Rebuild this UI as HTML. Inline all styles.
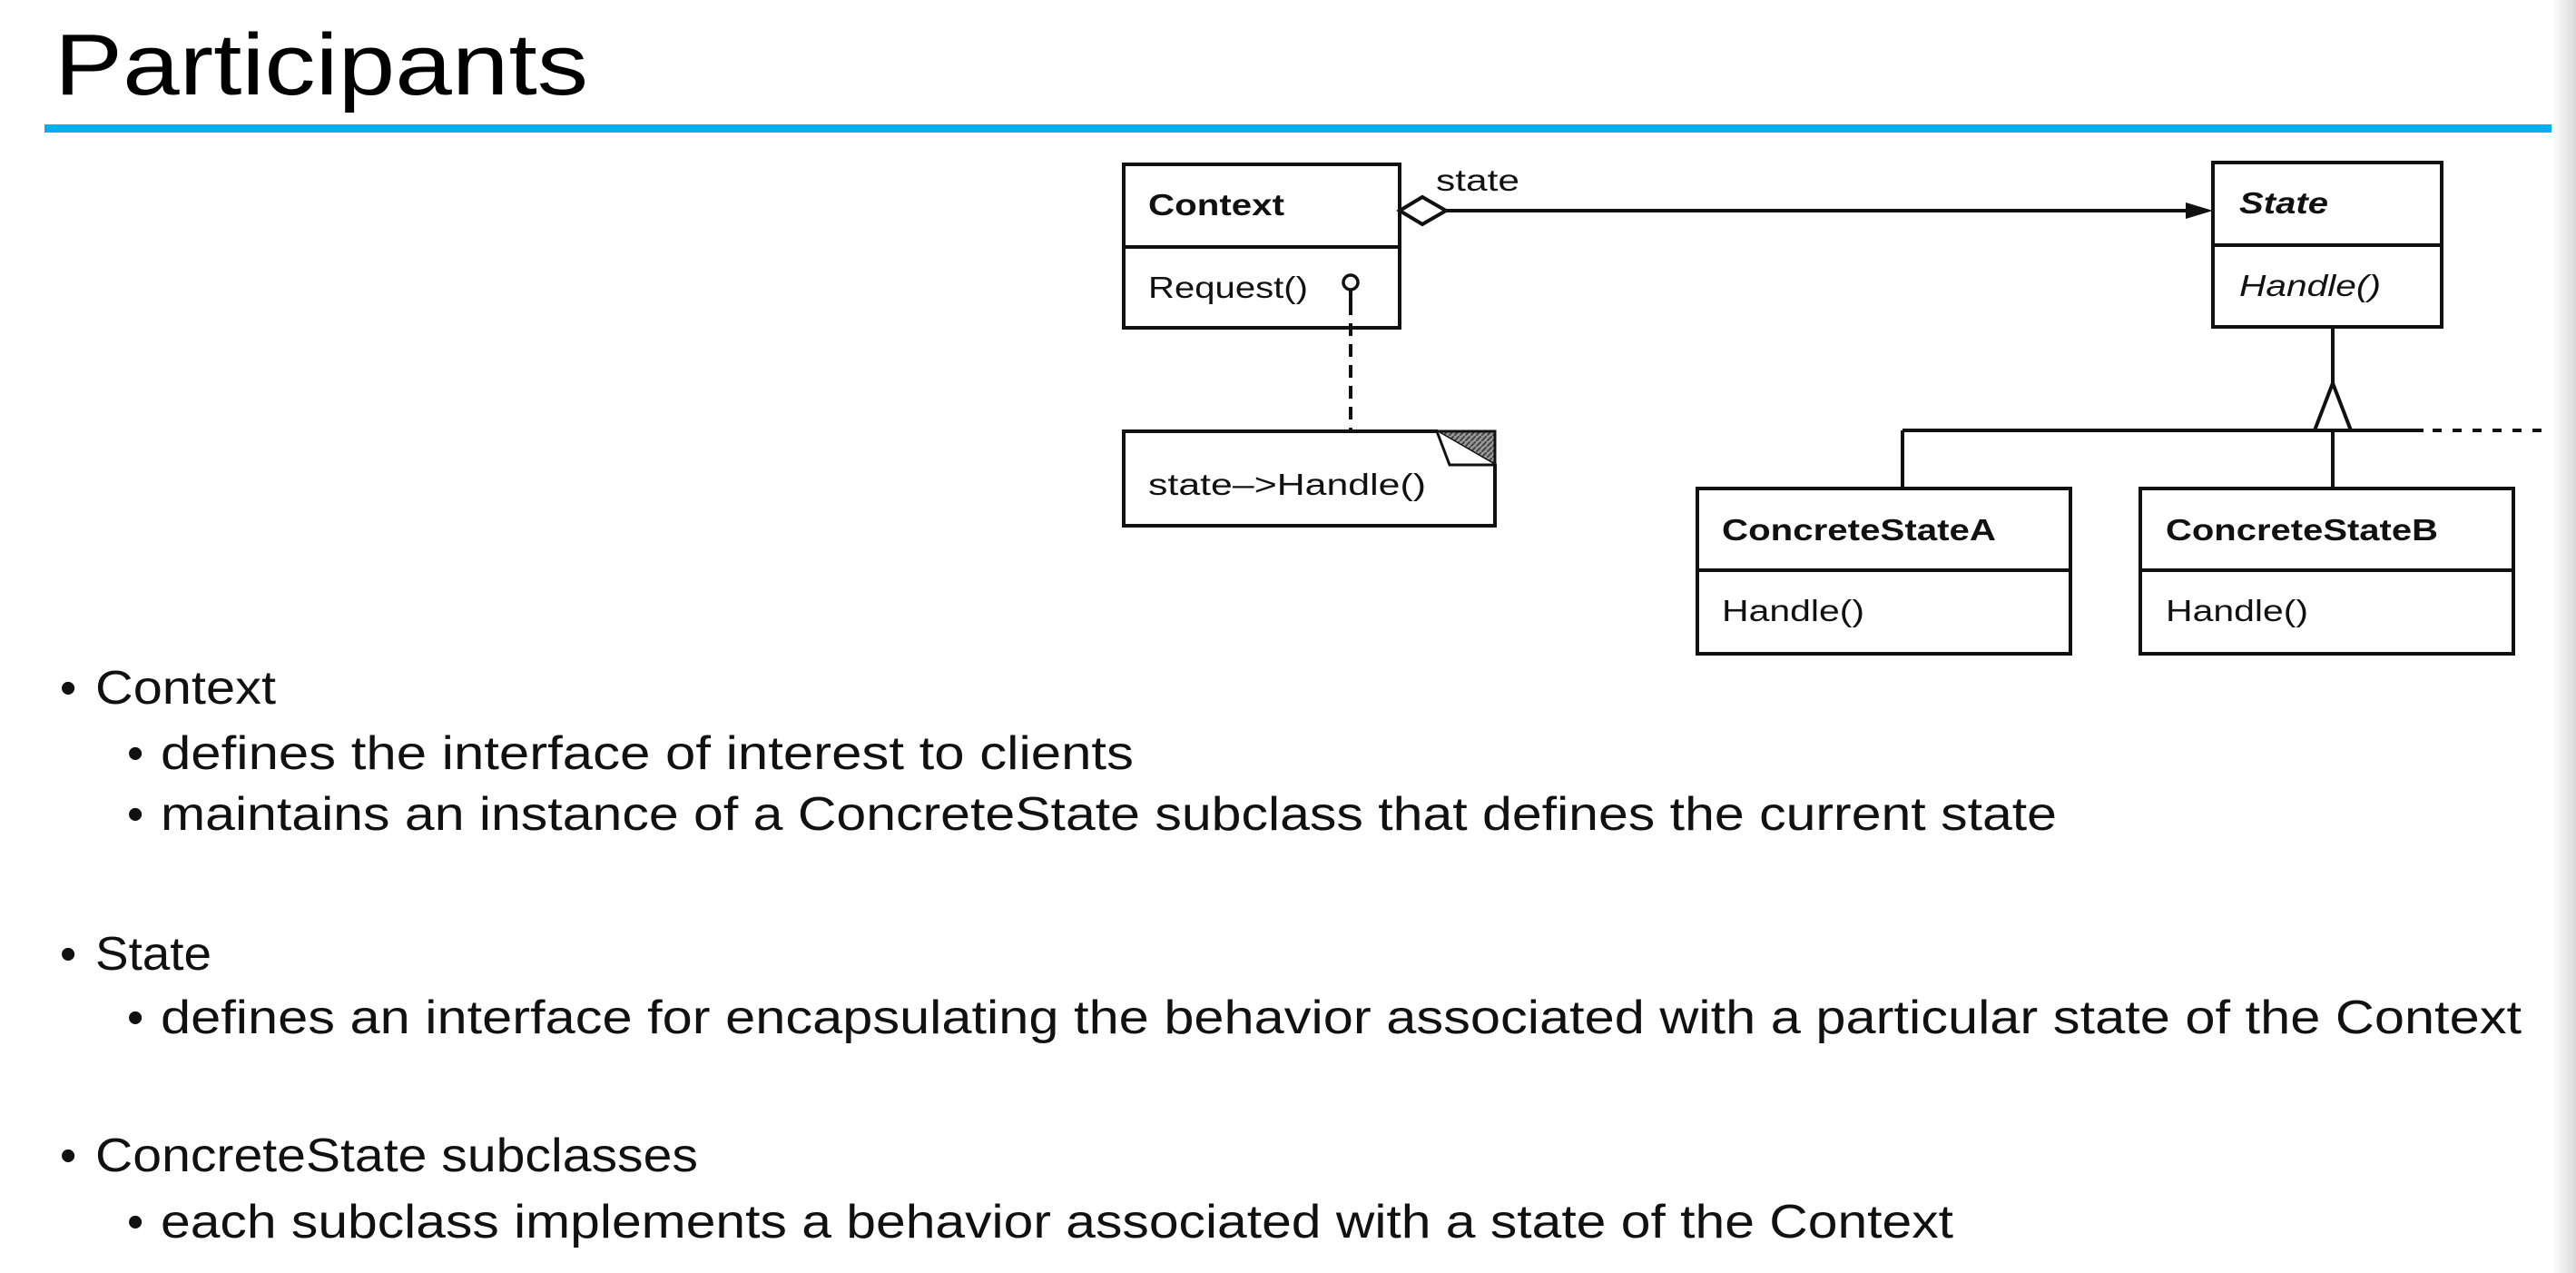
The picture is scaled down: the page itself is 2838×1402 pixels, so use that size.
<!DOCTYPE html>
<html><head><meta charset="utf-8"><style>
html,body{margin:0;padding:0;background:#fff;}
svg{display:block;}
</style></head><body>
<svg width="2838" height="1402" viewBox="0 0 2838 1402" xmlns="http://www.w3.org/2000/svg">
<defs>
<linearGradient id="sh" x1="0" x2="1"><stop offset="0" stop-color="#fff"/><stop offset="1" stop-color="#d8d8d8"/></linearGradient>
<pattern id="hat" width="6" height="6" patternUnits="userSpaceOnUse"><rect width="6" height="6" fill="#999"/><path d="M0 6 L6 0" stroke="#444" stroke-width="2"/></pattern>
</defs>
<rect x="2812" y="0" width="26" height="1402" fill="url(#sh)"/>
<text x="60" y="104" font-family="Liberation Sans, sans-serif" font-size="96" textLength="588" lengthAdjust="spacingAndGlyphs">Participants</text>
<rect x="49" y="137" width="2762" height="9" fill="#05aeed"/>

<g fill="none" stroke="#111" stroke-width="4">
<rect x="1238" y="181" width="304" height="180"/>
<line x1="1238" y1="272" x2="1542" y2="272"/>
<rect x="2438" y="179" width="252" height="181"/>
<line x1="2438" y1="270" x2="2690" y2="270"/>
<rect x="1870" y="538" width="411" height="182"/>
<line x1="1870" y1="628" x2="2281" y2="628"/>
<rect x="2358" y="538" width="411" height="182"/>
<line x1="2358" y1="628" x2="2769" y2="628"/>
<path d="M1238 475 L1583 475 L1647 512 L1647 579 L1238 579 Z"/>
<line x1="1593" y1="232" x2="2412" y2="232"/>
<line x1="1488" y1="333" x2="1488" y2="474" stroke-dasharray="14 9"/>
<line x1="2570" y1="360" x2="2570" y2="422"/>
<line x1="2096" y1="474" x2="2670" y2="474"/>
<line x1="2096" y1="474" x2="2096" y2="538"/>
<line x1="2570" y1="474" x2="2570" y2="538"/>
<line x1="2680" y1="474" x2="2810" y2="474" stroke-dasharray="10 12"/>
<line x1="1488" y1="318" x2="1488" y2="334"/>
</g>
<path d="M1583 475 L1647 475 L1647 512 Z" fill="url(#hat)" stroke="#111" stroke-width="3"/>
<path d="M1583 475 L1597 512 L1647 512" fill="#fff" stroke="#111" stroke-width="3"/>
<polygon points="1542,232 1567,217 1593,232 1567,247" fill="#fff" stroke="#111" stroke-width="4"/>
<polygon points="2408,223 2438,232 2408,241" fill="#111"/>
<polygon points="2570,422 2550,474 2590,474" fill="#fff" stroke="#111" stroke-width="4"/>
<circle cx="1488" cy="311" r="8" fill="#fff" stroke="#111" stroke-width="3.5"/>

<g font-family="Liberation Sans, sans-serif" font-size="33" fill="#111">
<text x="1265" y="237" font-weight="bold" textLength="150" lengthAdjust="spacingAndGlyphs">Context</text>
<text x="1265" y="328" textLength="176" lengthAdjust="spacingAndGlyphs">Request()</text>
<text x="1582" y="210" textLength="92" lengthAdjust="spacingAndGlyphs">state</text>
<text x="2467" y="235" font-weight="bold" font-style="italic" textLength="98" lengthAdjust="spacingAndGlyphs">State</text>
<text x="2467" y="326" font-style="italic" textLength="156" lengthAdjust="spacingAndGlyphs">Handle()</text>
<text x="1265" y="545" textLength="306" lengthAdjust="spacingAndGlyphs">state–&gt;Handle()</text>
<text x="1897" y="595" font-weight="bold" textLength="302" lengthAdjust="spacingAndGlyphs">ConcreteStateA</text>
<text x="1897" y="684" textLength="157" lengthAdjust="spacingAndGlyphs">Handle()</text>
<text x="2386" y="595" font-weight="bold" textLength="300" lengthAdjust="spacingAndGlyphs">ConcreteStateB</text>
<text x="2386" y="684" textLength="157" lengthAdjust="spacingAndGlyphs">Handle()</text>
</g>

<g font-family="Liberation Sans, sans-serif" font-size="52" fill="#111">
<text x="66" y="775">•</text>
<text x="105" y="775" textLength="199" lengthAdjust="spacingAndGlyphs">Context</text>
<text x="140" y="847">•</text>
<text x="177" y="847" textLength="1072" lengthAdjust="spacingAndGlyphs">defines the interface of interest to clients</text>
<text x="140" y="914">•</text>
<text x="177" y="914" textLength="2089" lengthAdjust="spacingAndGlyphs">maintains an instance of a ConcreteState subclass that defines the current state</text>
<text x="66" y="1068">•</text>
<text x="105" y="1068" textLength="128" lengthAdjust="spacingAndGlyphs">State</text>
<text x="140" y="1138">•</text>
<text x="177" y="1138" textLength="2601" lengthAdjust="spacingAndGlyphs">defines an interface for encapsulating the behavior associated with a particular state of the Context</text>
<text x="66" y="1290">•</text>
<text x="105" y="1290" textLength="664" lengthAdjust="spacingAndGlyphs">ConcreteState subclasses</text>
<text x="140" y="1363">•</text>
<text x="177" y="1363" textLength="1975" lengthAdjust="spacingAndGlyphs">each subclass implements a behavior associated with a state of the Context</text>
</g>
</svg>
</body></html>
